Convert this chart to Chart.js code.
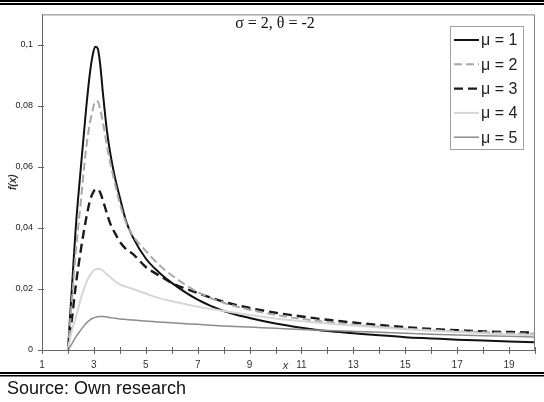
<!DOCTYPE html>
<html><head><meta charset="utf-8">
<script src="https://cdn.jsdelivr.net/npm/chart.js@4.4.1/dist/chart.umd.min.js"></script>
<style>html,body{margin:0;padding:0;background:#fff;}#wrap{width:544px;height:402px;position:relative;}</style>
</head><body><div id="wrap"><canvas id="c" width="544" height="402"></canvas></div>
<script>
const xValues = [2, 2.15, 2.3, 2.5, 2.7, 2.85, 2.95, 3.05, 3.15, 3.25, 3.35, 3.5, 3.65, 3.8, 4.0, 4.25, 4.5, 5, 5.5, 6, 7, 8, 9, 10, 11, 12, 13, 14, 15, 16, 17, 18, 19, 20];
const mu1 = [0, 0.020, 0.040, 0.060, 0.079, 0.091, 0.0965, 0.0994, 0.0988, 0.093, 0.084, 0.072, 0.0635, 0.057, 0.050, 0.042, 0.037, 0.030, 0.0255, 0.022, 0.0165, 0.0128, 0.0105, 0.0087, 0.0073, 0.0062, 0.0055, 0.0048, 0.0042, 0.0038, 0.0034, 0.0031, 0.0028, 0.0025];
const mu2 = [0, 0.016, 0.032, 0.049, 0.066, 0.0745, 0.0785, 0.0815, 0.0815, 0.0785, 0.0745, 0.067, 0.0605, 0.055, 0.048, 0.0415, 0.0375, 0.0325, 0.028, 0.0245, 0.019, 0.0155, 0.0132, 0.0115, 0.0102, 0.0092, 0.0083, 0.0076, 0.0070, 0.0065, 0.0061, 0.0058, 0.0055, 0.0053];
const mu3 = [0, 0.010, 0.021, 0.033, 0.043, 0.049, 0.0513, 0.0526, 0.0527, 0.0515, 0.049, 0.0448, 0.041, 0.0385, 0.0355, 0.033, 0.0315, 0.0272, 0.0245, 0.022, 0.0187, 0.0158, 0.0138, 0.0122, 0.0110, 0.0099, 0.0090, 0.0082, 0.0075, 0.0069, 0.0065, 0.0061, 0.0059, 0.0057];
const mu4 = [0, 0.0065, 0.0105, 0.017, 0.022, 0.0245, 0.0257, 0.0264, 0.0266, 0.0265, 0.026, 0.0248, 0.0237, 0.0226, 0.0215, 0.0207, 0.0200, 0.0185, 0.0170, 0.0160, 0.0142, 0.0128, 0.0115, 0.0103, 0.0094, 0.0087, 0.0080, 0.0074, 0.0068, 0.0063, 0.0059, 0.0055, 0.0051, 0.0048];
const mu5 = [0, 0.0020, 0.0042, 0.0066, 0.0088, 0.0099, 0.0104, 0.0107, 0.0109, 0.0110, 0.0110, 0.0108, 0.0106, 0.0104, 0.0102, 0.0100, 0.0098, 0.0095, 0.0092, 0.0089, 0.0084, 0.0079, 0.0075, 0.0071, 0.0067, 0.0064, 0.0061, 0.0058, 0.0055, 0.0052, 0.0049, 0.0047, 0.0045, 0.0043];
const seriesLabels = ['μ = 1', 'μ = 2', 'μ = 3', 'μ = 4', 'μ = 5'];
const yTickValues = [0, 0.02, 0.04, 0.06, 0.08, 0.1];
const yTickLabels = ['0', '0,02', '0,04', '0,06', '0,08', '0,1'];
const xTickValues = [1,2,3,4,5,6,7,8,9,10,11,12,13,14,15,16,17,18,19,20];
const xTickLabels = ['1','','3','','5','','7','','9','','11','','13','','15','','17','','19',''];
const chartTitle = 'σ = 2, θ = -2';
const xAxisTitle = 'x';
const yAxisTitle = 'f(x)';
const sourceNote = 'Source: Own research';

const seriesData = [mu1, mu2, mu3, mu4, mu5];
const styles = [
  {color: '#111111', width: 2, dash: []},
  {color: '#a8a8a8', width: 2, dash: [8, 4]},
  {color: '#1a1a1a', width: 2.4, dash: [9, 5]},
  {color: '#d6d6d6', width: 2, dash: []},
  {color: '#8c8c8c', width: 1.5, dash: []}
];

const datasets = seriesData.map((arr, i) => ({
  label: seriesLabels[i],
  data: xValues.map((x, j) => ({x: x, y: arr[j]})),
  borderColor: styles[i].color,
  borderWidth: styles[i].width,
  borderDash: styles[i].dash,
  pointRadius: 0,
  fill: false,
  cubicInterpolationMode: 'monotone'
}));
const ordered = [datasets[3], datasets[4], datasets[1], datasets[2], datasets[0]];

const decor = {
  id: 'decor',
  afterDraw(chart) {
    const {ctx, chartArea: a, scales} = chart;
    const xs = scales.x, ys = scales.y;
    ctx.save();
    ctx.strokeStyle = '#808080'; ctx.lineWidth = 1;
    ctx.beginPath();
    ctx.moveTo(a.left, a.top + 0.5); ctx.lineTo(a.right - 0.5, a.top + 0.5); ctx.lineTo(a.right - 0.5, a.bottom);
    ctx.stroke();
    ctx.strokeStyle = '#666';
    ctx.beginPath();
    xTickValues.forEach(v => {
      const px = Math.round(xs.getPixelForValue(v)) + 0.5;
      ctx.moveTo(px, a.bottom - 3); ctx.lineTo(px, a.bottom + 4);
    });
    yTickValues.forEach(v => {
      const py = Math.round(ys.getPixelForValue(v)) + 0.5;
      ctx.moveTo(a.left - 4, py); ctx.lineTo(a.left + 2, py);
    });
    ctx.stroke();
    ctx.fillStyle = '#111';
    ctx.font = '16px "Liberation Serif"';
    ctx.textAlign = 'center'; ctx.textBaseline = 'alphabetic';
    ctx.fillText(chartTitle, 275, 28);
    ctx.font = 'italic 11px "Liberation Sans"';
    ctx.textAlign = 'center'; ctx.textBaseline = 'middle';
    ctx.fillStyle = '#333';
    ctx.fillText(xAxisTitle, xs.getPixelForValue(11) - 16, 366);
    ctx.save();
    ctx.translate(13, (a.top + a.bottom) / 2);
    ctx.rotate(-Math.PI / 2);
    ctx.font = 'italic bold 10px "Liberation Sans"';
    ctx.fillStyle = '#333';
    ctx.fillText(yAxisTitle, 0, 0);
    ctx.restore();
    const lx = 450.5, ly = 26.5, lw = 73, lh = 123;
    ctx.fillStyle = '#fff'; ctx.fillRect(lx, ly, lw, lh);
    ctx.strokeStyle = '#a0a0a0'; ctx.lineWidth = 1; ctx.setLineDash([]);
    ctx.strokeRect(lx, ly, lw, lh);
    ctx.font = '16px "Liberation Sans"';
    ctx.textAlign = 'left'; ctx.textBaseline = 'middle';
    datasets.forEach((d, i) => {
      const yy = 40 + i * 24.3;
      ctx.strokeStyle = d.borderColor; ctx.lineWidth = d.borderWidth;
      ctx.setLineDash(d.borderDash);
      ctx.beginPath(); ctx.moveTo(454, yy); ctx.lineTo(479, yy); ctx.stroke();
      ctx.setLineDash([]);
      ctx.fillStyle = '#222';
      ctx.fillText(d.label, 481, yy + 1);
    });
    ctx.fillStyle = '#000';
    ctx.fillRect(0, 0, 544, 2); ctx.fillRect(0, 3, 544, 2);
    ctx.fillRect(0, 372, 544, 2); ctx.fillRect(0, 375, 544, 1.5);
    ctx.font = '18px "Liberation Sans"';
    ctx.textAlign = 'left'; ctx.textBaseline = 'alphabetic';
    ctx.fillStyle = '#111';
    ctx.fillText(sourceNote, 7, 394);
    ctx.restore();
  }
};

new Chart(document.getElementById('c'), {
  type: 'line',
  data: {datasets: ordered},
  options: {
    responsive: false,
    animation: false,
    layout: {padding: {left: 0, right: 4, top: 8, bottom: 0}},
    plugins: {legend: {display: false}, title: {display: false}, tooltip: {enabled: false}},
    scales: {
      x: {
        type: 'linear', min: 1, max: 20,
        afterFit: s => { s.height = 52; },
        afterBuildTicks: s => { s.ticks = xTickValues.map(v => ({value: v})); },
        grid: {display: true, drawOnChartArea: false, drawTicks: false},
        border: {display: true, color: '#666', width: 1},
        ticks: {
          padding: 9, color: '#333', maxRotation: 0, autoSkip: false,
          font: {family: '"Liberation Sans"', size: 10},
          callback: (v) => { const k = xTickValues.indexOf(v); return k >= 0 ? xTickLabels[k] : ''; }
        }
      },
      y: {
        type: 'linear', min: 0, max: 0.11,
        afterFit: s => { s.width = 42; },
        afterBuildTicks: s => { s.ticks = yTickValues.map(v => ({value: v})); },
        grid: {display: true, drawOnChartArea: false, drawTicks: false},
        border: {display: true, color: '#666', width: 1},
        ticks: {
          padding: 9, color: '#222',
          font: {family: '"Liberation Sans"', size: 9},
          callback: (v) => { const k = yTickValues.indexOf(v); return k >= 0 ? yTickLabels[k] : ''; }
        }
      }
    }
  },
  plugins: [decor]
});
</script></body></html>
